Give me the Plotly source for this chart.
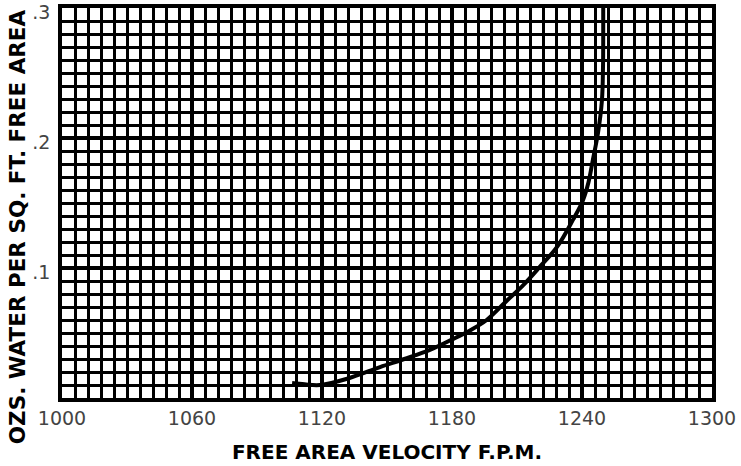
import plotly.graph_objects as go

velocity = [1106.2, 1112.0, 1119.1, 1132.0, 1146.8, 1158.0, 1169.8, 1180.0, 1188.3, 1196.0,
            1205.4, 1213.0, 1220.6, 1228.4, 1235.8, 1240.4, 1243.0, 1245.0, 1247.4, 1249.2,
            1249.7, 1249.8, 1249.8]
water = [0.0115, 0.0105, 0.0100, 0.0150, 0.0238, 0.0300, 0.0370, 0.0450, 0.0520, 0.0600,
         0.0750, 0.0870, 0.1010, 0.1160, 0.1370, 0.1520, 0.1660, 0.1830, 0.2040, 0.2290,
         0.2550, 0.2810, 0.3000]

x_ticks = [1000, 1060, 1120, 1180, 1240, 1300]
y_ticks = [0.1, 0.2, 0.3]
y_tick_labels = [".1", ".2", ".3"]

fig = go.Figure()
fig.add_trace(go.Scatter(x=velocity, y=water, mode="lines",
                         line=dict(color="black", width=4, shape="spline", smoothing=1.0),
                         hoverinfo="skip", showlegend=False))

fig.update_layout(
    width=741, height=466,
    margin=dict(l=62, r=29, t=8, b=68),
    paper_bgcolor="white", plot_bgcolor="white",
    showlegend=False,
    xaxis=dict(range=[1000, 1300], tickvals=x_ticks, ticks="", automargin=False,
               ticklabeloverflow="allow",
               showgrid=True, gridcolor="black", gridwidth=4,
               minor=dict(dtick=6, tick0=1000, showgrid=True, gridcolor="black", gridwidth=2.5),
               showline=True, linecolor="black", linewidth=3.5, mirror=True,
               zeroline=False,
               tickfont=dict(family="DejaVu Sans", size=19, color="#444444"),
               title=dict(text="<b>FREE AREA VELOCITY F.P.M.</b>",
                          font=dict(family="DejaVu Sans", size=20, color="black"),
                          standoff=18)),
    yaxis=dict(range=[0, 0.3], tickvals=y_ticks, ticktext=y_tick_labels, ticks="", automargin=False,
               ticklabeloverflow="allow", ticklabelstandoff=4, ticklabelshift=4,
               showgrid=True, gridcolor="black", gridwidth=4,
               minor=dict(dtick=0.01, tick0=0, showgrid=True, gridcolor="black", gridwidth=2.5),
               showline=True, linecolor="black", linewidth=3.5, mirror=True,
               zeroline=False,
               tickfont=dict(family="DejaVu Sans", size=19, color="#444444")),
    annotations=[dict(text="<b>OZS. WATER PER SQ. FT. FREE AREA</b>",
                      xref="paper", yref="paper", x=-0.068, y=0.44,
                      xanchor="center", yanchor="middle", textangle=-90, showarrow=False,
                      font=dict(family="DejaVu Sans", size=21.5, color="black"))],
)

fig.write_html("out.html", config={"displayModeBar": False},
               post_script="document.body.style.margin='0';")
